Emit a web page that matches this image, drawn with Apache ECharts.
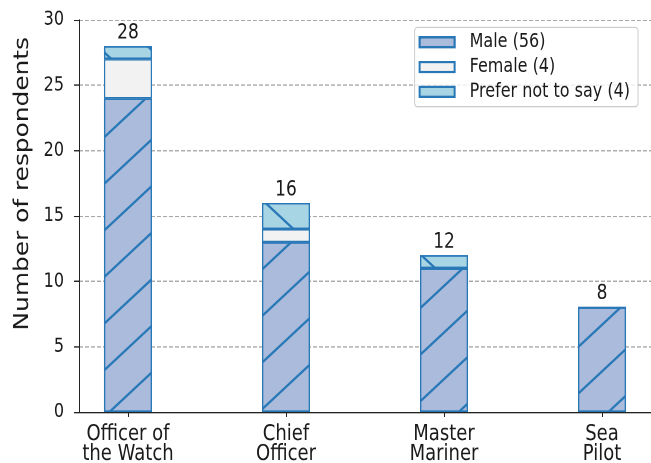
<!DOCTYPE html>
<html>
<head>
<meta charset="utf-8">
<script src="https://cdn.jsdelivr.net/npm/echarts@6/dist/echarts.min.js"></script>
<style>
  html, body { margin: 0; padding: 0; background: #fff; width: 651px; height: 463px; overflow: hidden; }
  #wrap { width: 651px; height: 463px; position: relative; }
  /* the reference glyphs are taller than wide, so the chart is drawn flat and stretched */
  #main { position: absolute; left: 0; top: 0; width: 651px; height: 373px; transform: scaleY(1.24129); transform-origin: 0 0; }
</style>
</head>
<body>
<div id="wrap"><div id="main"></div></div>
<script>
// data
var categories = ['Officer of\nthe Watch', 'Chief\nOfficer', 'Master\nMariner', 'Sea\nPilot'];
var maleCounts = [24, 13, 11, 8];
var femaleCounts = [3, 1, 0, 0];
var preferCounts = [1, 2, 1, 0];
var yTicks = { min: 0, max: 30, step: 5 };

function sum(arr) { return arr.reduce(function (a, b) { return a + b; }, 0); }
// value first so the stack runs along y
function points(arr) { return arr.map(function (v, i) { return [v, i]; }); }

var totals = maleCounts.map(function (v, i) { return v + femaleCounts[i] + preferCounts[i]; });
var positions = categories.map(function (c, i) { return i; });

var edge = '#2878b8';
var font = 'DejaVu Sans';

var chart = echarts.init(document.getElementById('main'), null, { devicePixelRatio: 2 });

chart.setOption({
  animation: false,
  textStyle: { fontFamily: font },
  grid: { left: 79, right: 0, top: 16, bottom: 41, outerBoundsMode: 'none' },
  legend: {
    orient: 'vertical',
    right: 13,
    top: 22,
    padding: [4, 8, 4, 4],
    itemGap: 4,
    itemWidth: 35,
    itemHeight: 8,
    icon: 'rect',
    borderColor: '#cccccc',
    borderWidth: 1,
    borderRadius: 3,
    backgroundColor: 'rgba(255,255,255,0.8)',
    textStyle: { fontFamily: font, fontSize: 16, color: '#1a1a1a', lineHeight: 16, padding: [0, 0, 0, 10] },
    data: [
      { name: 'Male (' + sum(maleCounts) + ')' },
      { name: 'Female (' + sum(femaleCounts) + ')' },
      { name: 'Prefer not to say (' + sum(preferCounts) + ')', itemStyle: { decal: 'none' } }
    ]
  },
  xAxis: {
    type: 'value',
    min: -0.31,
    max: 3.31,
    axisLine: { onZero: false, lineStyle: { color: '#222', width: 1 } },
    axisTick: { show: true, length: 4, customValues: positions, lineStyle: { color: '#222' } },
    axisLabel: {
      customValues: positions,
      formatter: function (v) { return categories[Math.round(v)]; },
      fontFamily: font, fontSize: 18, lineHeight: 16, color: '#1a1a1a', margin: 10
    },
    splitLine: { show: false }
  },
  yAxis: {
    type: 'value',
    min: yTicks.min,
    max: yTicks.max,
    interval: yTicks.step,
    name: 'Number of respondents',
    nameLocation: 'middle',
    nameGap: 26,
    nameTextStyle: { fontFamily: font, fontSize: 20, color: '#1a1a1a', padding: [0, 0, 0, 52] },
    axisLine: { show: true, onZero: false, lineStyle: { color: '#222', width: 1 } },
    axisTick: { show: true, length: 5, lineStyle: { color: '#222' } },
    axisLabel: { fontFamily: font, fontSize: 16, color: '#1a1a1a', margin: 15 },
    splitLine: { show: true, lineStyle: { color: '#a8a8a8', width: 1, type: [4, 2] } }
  },
  series: [
    {
      name: 'Male (' + sum(maleCounts) + ')',
      type: 'bar',
      stack: 'all',
      barWidth: 48,
      encode: { x: 1, y: 0 },
      data: points(maleCounts),
      itemStyle: {
        color: '#aabbdb',
        borderColor: edge,
        borderWidth: 1.2,
        decal: { symbol: 'rect', symbolSize: 1, dashArrayX: [1, 0], dashArrayY: [1.5, 27.5], rotation: -0.645, color: edge }
      }
    },
    {
      name: 'Female (' + sum(femaleCounts) + ')',
      type: 'bar',
      stack: 'all',
      barWidth: 48,
      encode: { x: 1, y: 0 },
      data: points(femaleCounts),
      itemStyle: { color: '#f2f2f2', borderColor: edge, borderWidth: 1.2 }
    },
    {
      name: 'Prefer not to say (' + sum(preferCounts) + ')',
      type: 'bar',
      stack: 'all',
      barWidth: 48,
      encode: { x: 1, y: 0 },
      data: points(preferCounts),
      itemStyle: {
        color: '#a8d5e4',
        borderColor: edge,
        borderWidth: 1.2,
        decal: { symbol: 'rect', symbolSize: 1, dashArrayX: [1, 0], dashArrayY: [1.5, 27.5], rotation: 0.645, color: edge }
      },
      label: {
        show: true,
        position: 'top',
        distance: 2,
        fontFamily: font,
        fontSize: 17,
        color: '#1a1a1a',
        formatter: function (p) { return totals[p.dataIndex]; }
      }
    }
  ]
});
</script>
</body>
</html>
